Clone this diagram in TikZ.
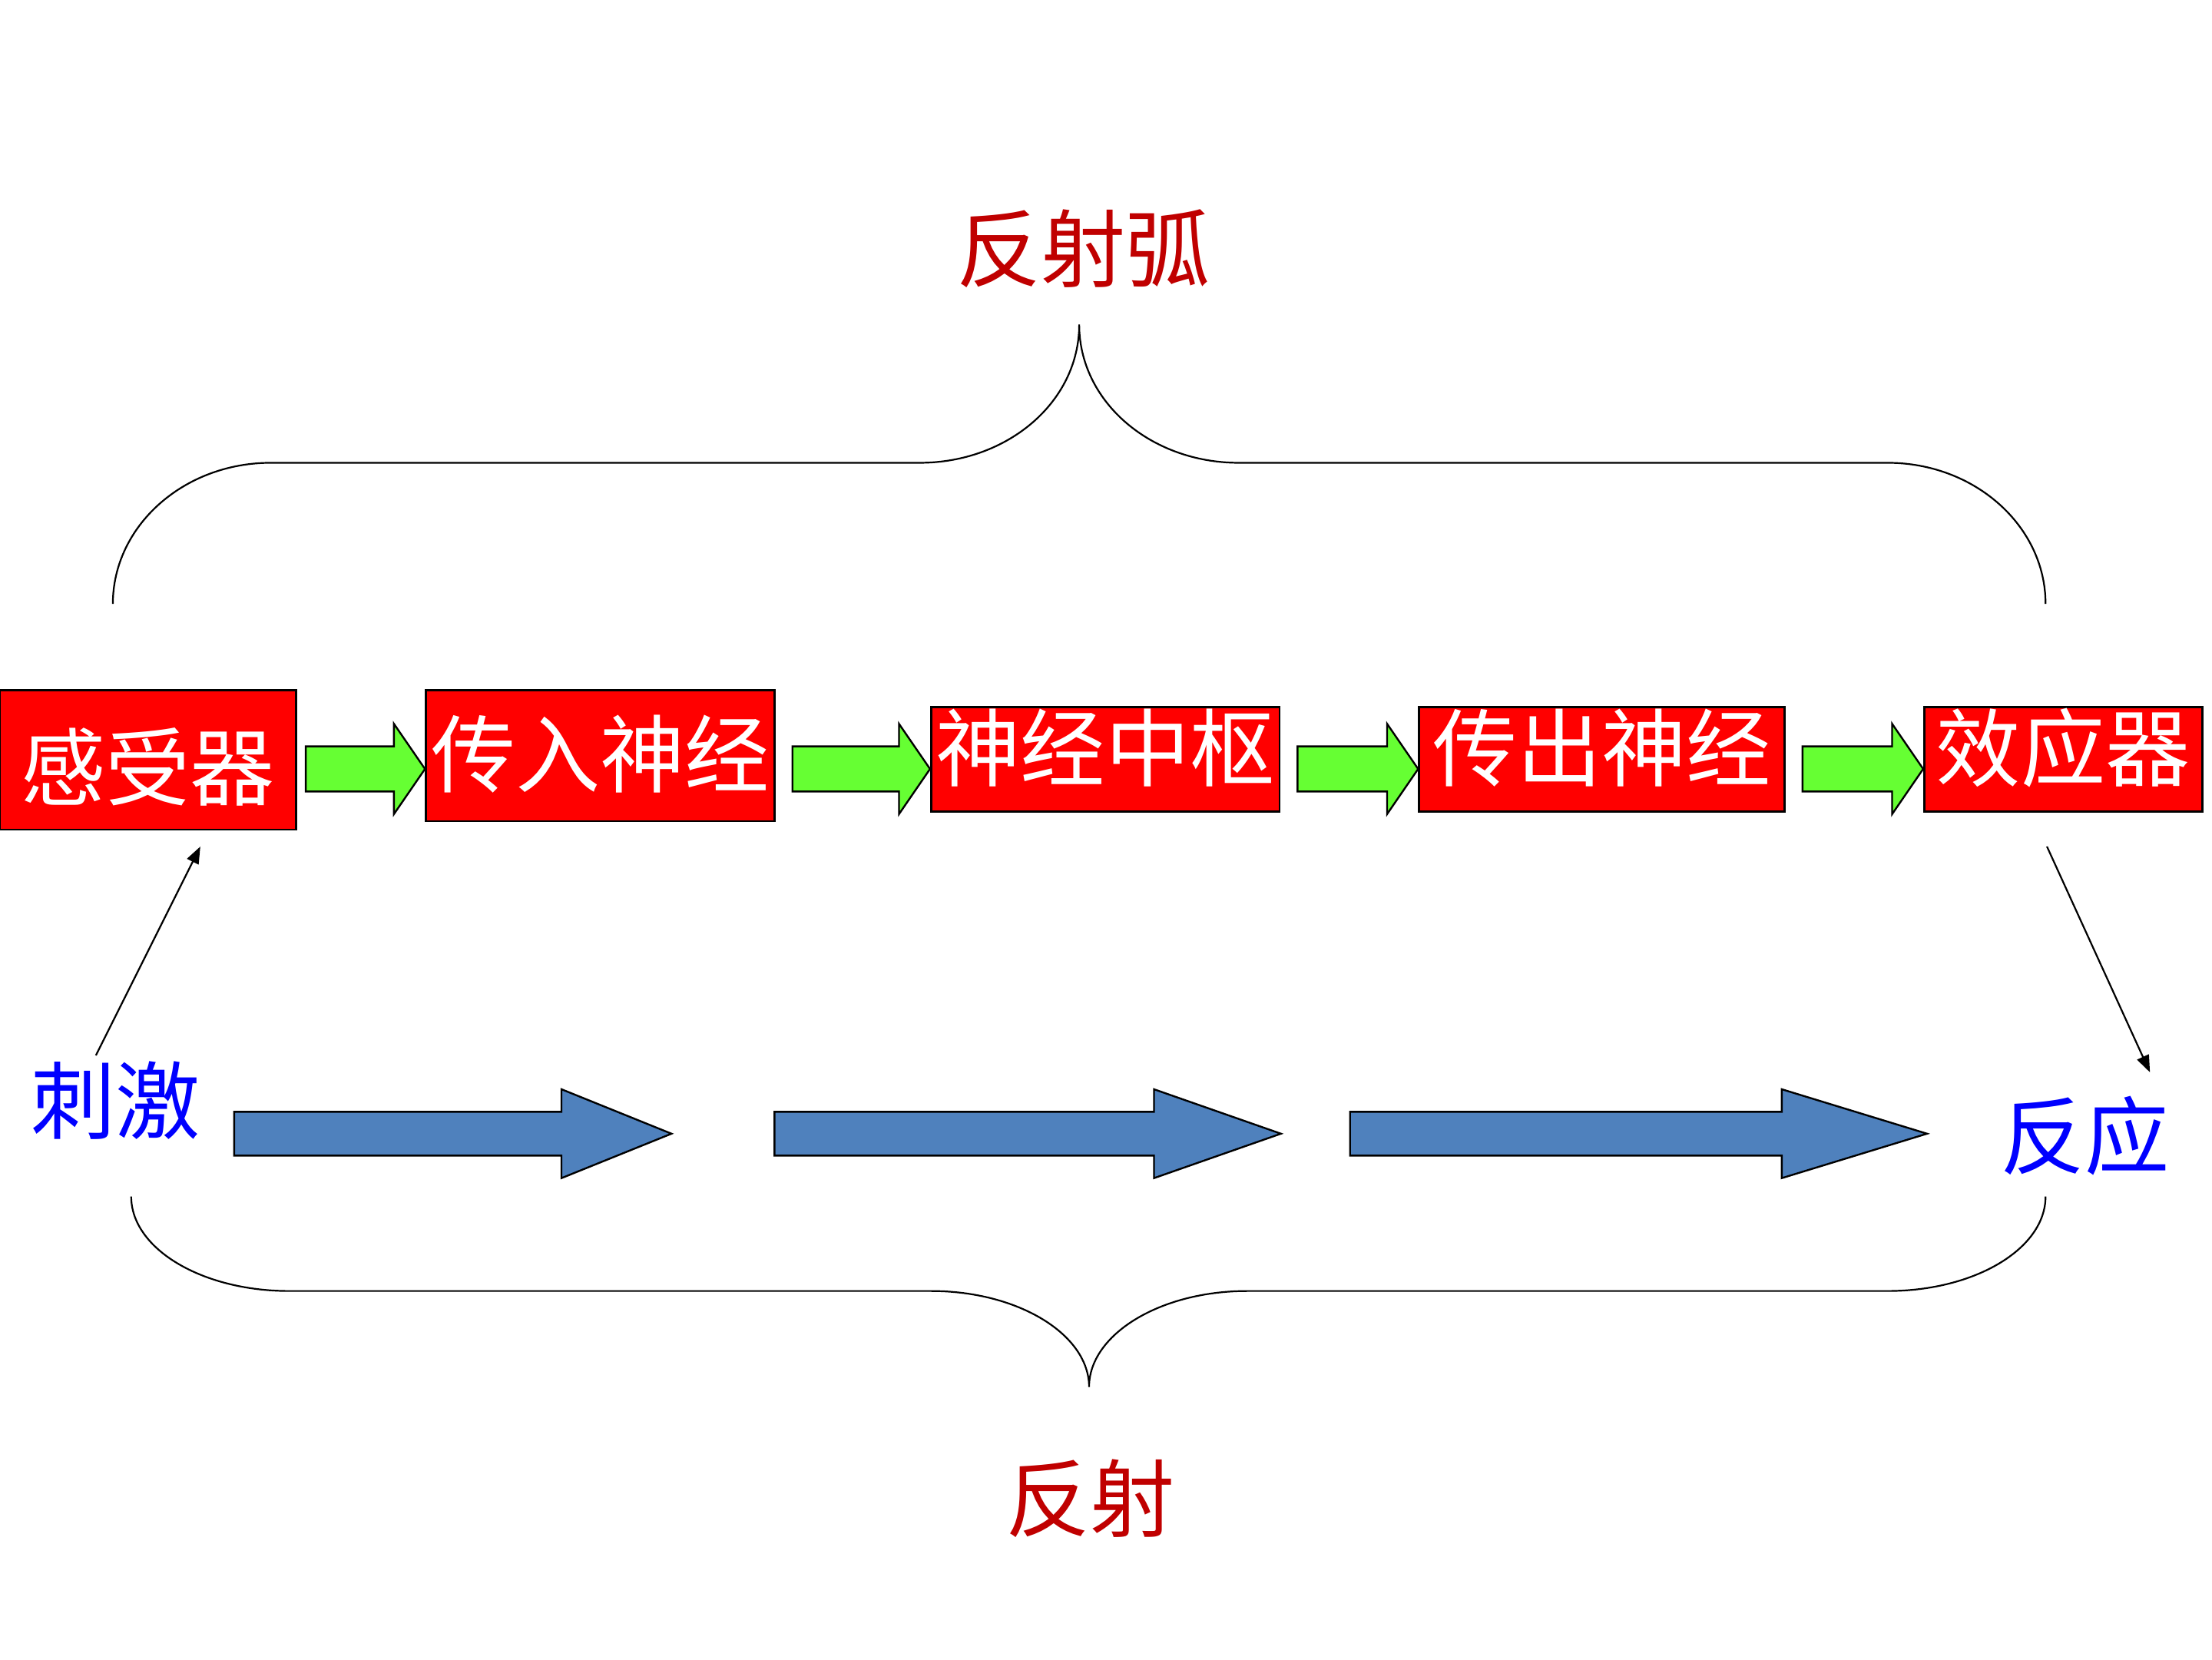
\documentclass[tikz,border=0pt]{standalone}
\usepackage{fontspec}
\newfontfamily\cjk{Noto Sans CJK SC}
\usetikzlibrary{calc,arrows.meta}
\definecolor{boxred}{HTML}{FF0000}
\definecolor{arrgreen}{HTML}{66FF33}
\definecolor{arrblue}{HTML}{4F81BD}
\definecolor{txtblue}{HTML}{0000FF}
\definecolor{darkred}{HTML}{C00000}
\tikzset{
  redbox/.style={draw=black, line width=1.5pt, fill=boxred, text=white, inner sep=0pt,
    font=\cjk\fontsize{60pt}{60pt}\selectfont, text height=51.6pt, text depth=8.4pt},
  bigtext/.style={inner sep=0pt, font=\cjk\fontsize{60pt}{60pt}\selectfont},
  greenarr/.style={draw=black, line width=1.3pt, fill=arrgreen, line join=miter},
  bluearr/.style={draw=black, line width=1.3pt, fill=arrblue, line join=miter},
  thinarr/.style={draw=black, line width=1.2pt, -{Triangle[length=12pt,width=9pt]}},
  brace/.style={draw=black, line width=1.2pt},
}
\begin{document}
\begin{tikzpicture}[x=1pt,y=-1pt]
\useasboundingbox (0,0) rectangle (1568,1176);

% title texts
\node[bigtext, text=darkred] (arc) at (768,176) {反射弧};
\node[bigtext, text=darkred] (refl) at (773,1062) {反射};
\node[bigtext, text=txtblue] (stim) at (82,780) {刺激};
\node[bigtext, text=txtblue] (resp) at (1478,805) {反应};

% red boxes
\node[redbox, minimum width=210pt, minimum height=99pt, text height=64.8pt] (b1) at (105,538.5) {感受器};
\node[redbox, minimum width=247pt, minimum height=93pt] (b2) at (425.5,535.5) {传入神经};
\node[redbox, minimum width=247pt, minimum height=74pt, text depth=21.6pt] (b3) at (783.5,538) {神经中枢};
\node[redbox, minimum width=259pt, minimum height=74pt, text depth=21.6pt] (b4) at (1135.5,538) {传出神经};
\node[redbox, minimum width=197pt, minimum height=74pt, text depth=21.6pt] (b5) at (1462.5,538) {效应器};

% green block arrows between boxes
\foreach \s/\t/\g in {b1/b2/6,b2/b3/12,b3/b4/12,b4/b5/12}{
  \coordinate (s-\s) at (\s.east |- 0,545);
  \coordinate (t-\t) at (\t.west |- 0,545);
  \draw[greenarr] ($(s-\s)+(\g,-16)$) -- ($(t-\t)+(-22,-16)$) -- ($(t-\t)+(-22,-32)$) -- (t-\t)
     -- ($(t-\t)+(-22,32)$) -- ($(t-\t)+(-22,16)$) -- ($(s-\s)+(\g,16)$) -- cycle;
}

% thin arrows
\coordinate (a1s) at (68,748);
\coordinate (a1e) at (142,600);
\draw[thinarr] (a1s) -- (a1e);
\coordinate (a2s) at (1451,600);
\coordinate (a2e) at (1524,760);
\draw[thinarr] (a2s) -- (a2e);

% blue block arrows
\draw[bluearr] (166,788) -- (398,788) -- (398,772) -- (476,803.5) -- (398,835) -- (398,819) -- (166,819) -- cycle;
\draw[bluearr] (549,788) -- (818,788) -- (818,772) -- (908,803.5) -- (818,835) -- (818,819) -- (549,819) -- cycle;
\draw[bluearr] (957,788) -- (1263,788) -- (1263,772) -- (1366,803.5) -- (1263,835) -- (1263,819) -- (957,819) -- cycle;

% top brace
\draw[brace] (80,428) .. controls (80,373) and (130,328) .. (192,328) -- (652,328)
  .. controls (714,328) and (765,285) .. (765,230)
  .. controls (765,285) and (816,328) .. (878,328) -- (1338,328)
  .. controls (1400,328) and (1450,373) .. (1450,428);

% bottom brace
\draw[brace] (93,848) .. controls (93,885) and (143,915) .. (205,915) -- (660,915)
  .. controls (722,915) and (772,946) .. (772,983)
  .. controls (772,946) and (822,915) .. (884,915) -- (1338,915)
  .. controls (1400,915) and (1450,885) .. (1450,848);
\end{tikzpicture}
\end{document}
